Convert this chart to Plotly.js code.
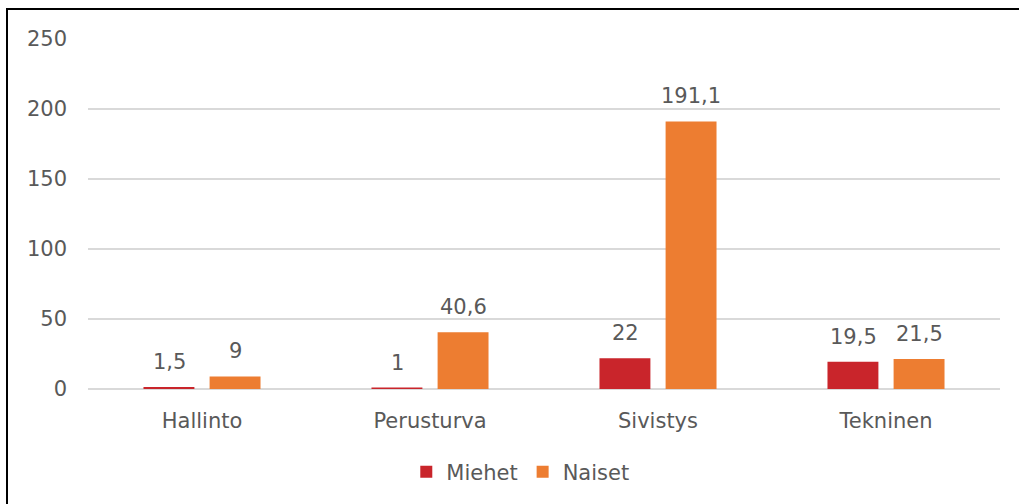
<!DOCTYPE html>
<html><head><meta charset="utf-8">
<script src="https://cdn.plot.ly/plotly-3.0.1.min.js"></script>
<style>
html,body{margin:0;padding:0;background:#fff;overflow:hidden}
#chart{width:1019px;height:504px}
#frame{position:absolute;left:6px;top:8px;width:1100px;height:600px;border-left:2px solid #000;border-top:2px solid #000;pointer-events:none}
</style></head>
<body>
<div id="chart"></div>
<div id="frame"></div>
<script>
const categories = ["Hallinto", "Perusturva", "Sivistys", "Tekninen"];
const miehet = [1.5, 1, 22, 19.5];
const naiset = [9, 40.6, 191.1, 21.5];
const seriesNames = ["Miehet", "Naiset"];
const yTicks = [0, 50, 100, 150, 200, 250];

const fmt = v => String(v).replace('.', ',');
const font = {family: "'DejaVu Sans', sans-serif", size: 21, color: "#595959"};

const traces = [
  {type: 'bar', name: seriesNames[0], x: categories, y: miehet, marker: {color: '#C9252B'}, hoverinfo: 'none'},
  {type: 'bar', name: seriesNames[1], x: categories, y: naiset, marker: {color: '#ED7D31'}, hoverinfo: 'none'}
];

const annotations = [];
[[miehet, -33], [naiset, 33]].forEach(([vals, dx]) => {
  vals.forEach((v, i) => {
    annotations.push({x: categories[i], y: v, xref: 'x', yref: 'y', text: fmt(v), showarrow: false,
      xshift: dx, yanchor: 'bottom', yshift: 11, font: font});
  });
});

const layout = {
  width: 1019, height: 504,
  margin: {l: 88, r: 19, t: 39, b: 114},
  paper_bgcolor: '#fff', plot_bgcolor: '#fff',
  font: font,
  barmode: 'group', bargap: 0.42, bargroupgap: 0.23,
  showlegend: true,
  legend: {orientation: 'h', x: 0.474, xanchor: 'center', y: -0.234, yanchor: 'middle', font: font, itemwidth: 30, traceorder: 'normal'},
  xaxis: {type: 'category', tickfont: font, showgrid: false, zeroline: false, showline: false, ticks: '', ticklabelstandoff: 17},
  yaxis: {range: [0, 250], tickvals: yTicks, ticktext: yTicks.map(String), tickfont: font, showgrid: true, gridcolor: '#d9d9d9', gridwidth: 1.5, zeroline: true, zerolinecolor: '#d9d9d9', zerolinewidth: 1.5, showline: false, ticks: '', ticklabelstandoff: 20},
  annotations: annotations
};

Plotly.newPlot('chart', traces, layout, {displayModeBar: false, staticPlot: true});
</script>
</body></html>
